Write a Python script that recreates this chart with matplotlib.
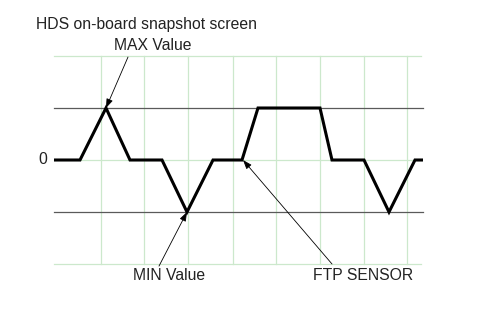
import matplotlib
matplotlib.use("Agg")
import matplotlib.pyplot as plt

# waveform key points (time units, signal level)
t = [0, 26, 52, 76, 108, 133, 159, 188, 204, 266, 278, 310, 335, 361, 369]
level = [0, 0, 1, 0, 0, -1, 0, 0, 1, 1, 0, 0, -1, 0, 0]

grid_x = [47, 90, 134, 178.5, 222, 266, 310, 353]
grid_y = [-2, 0, 2]
limit_y = [1, -1]

title = "HDS on-board snapshot screen"
labels = ["MAX Value", "MIN Value", "FTP SENSOR"]
targets = [(52, 1), (133, -1), (189, 0)]
tails = [(74, 1.98), (105, -2.04), (278, -2.0)]

plt.rcParams['font.family'] = ['Liberation Sans', 'DejaVu Sans']

W, H = 478, 314
fig = plt.figure(figsize=(W / 100, H / 100), dpi=100)
ax = fig.add_axes([54 / W, (H - 264) / H, (423 - 54) / W, (264 - 56) / H])
ax.set_xlim(0, 369)
ax.set_ylim(-2, 2)
ax.axis('off')

green = '#cce8cc'
for gx in grid_x:
    ax.plot([gx, gx], [-2, 2], color=green, lw=0.9, clip_on=False, zorder=1)
for gy in grid_y:
    ax.plot([0, 367], [gy, gy], color=green, lw=0.9, clip_on=False, zorder=1)
for ly in limit_y:
    ax.plot([0, 369], [ly, ly], color='#5a5a5a', lw=0.9, clip_on=False, zorder=2)

ax.plot(t, level, color='black', lw=2.2, solid_joinstyle='miter', zorder=3)

for tgt, tail in zip(targets, tails):
    ax.annotate('', xy=tgt, xytext=tail, xycoords='data', textcoords='data',
                arrowprops=dict(arrowstyle='-|>,head_length=0.5,head_width=0.18',
                                lw=0.6, color='black',
                                mutation_scale=11, shrinkA=0, shrinkB=0),
                annotation_clip=False, zorder=4)

fs = 11.3
tc = '#222222'
fig.text(36 / W, (H - 24) / H, title, fontsize=fs, ha='left', va='center', color=tc)
fig.text(114 / W, (H - 46) / H, labels[0], fontsize=fs, ha='left', va='center', color=tc)
fig.text(133 / W, (H - 276) / H, labels[1], fontsize=fs, ha='left', va='center', color=tc)
fig.text(313 / W, (H - 276) / H, labels[2], fontsize=fs, ha='left', va='center', color=tc)
fig.text(43 / W, (H - 160) / H, "0", fontsize=fs, ha='center', va='center', color=tc)

fig.savefig('out.png', dpi=100, facecolor='white')
